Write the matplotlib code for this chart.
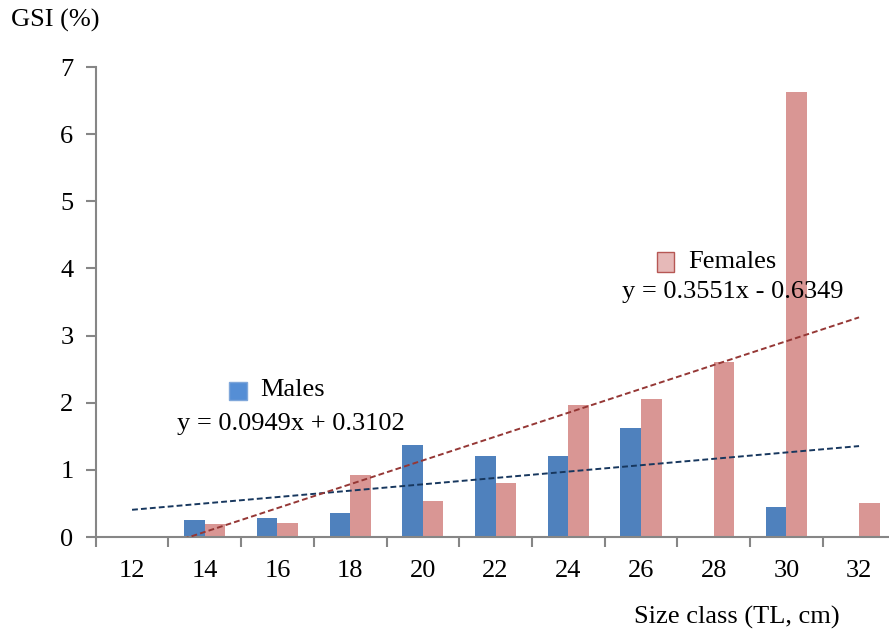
import numpy as np
import matplotlib.pyplot as plt
from matplotlib.patches import Rectangle

plt.rcParams["font.family"] = ["Liberation Serif", "DejaVu Serif"]

# data
size_class = ["12", "14", "16", "18", "20", "22", "24", "26", "28", "30", "32"]
males = [0, 0.26, 0.28, 0.36, 1.37, 1.21, 1.21, 1.62, 0, 0.44, 0]
females = [0, 0.20, 0.21, 0.93, 0.54, 0.81, 1.96, 2.06, 2.60, 6.63, 0.51]
male_fit = (0.0949, 0.3102)
female_fit = (0.3551, -0.6349)

W, H = 889, 641
fig = plt.figure(figsize=(W / 100, H / 100), dpi=100)
ax = fig.add_axes([95.7 / W, (H - 537) / H, 799.7 / W, 470 / H])

x = np.arange(len(size_class))
bw = 0.283
ax.bar(x - bw / 2, males, width=bw, color="#4F81BD", zorder=2)
ax.bar(x + bw / 2, females, width=bw, color="#D99694", zorder=2)

# linear trendlines (excel style, x = 1..n)
xi = x + 1
ax.plot(x, male_fit[0] * xi + male_fit[1], color="#17375E", lw=1.4,
        linestyle=(0, (3, 1.6)), zorder=3)
ax.plot(x, female_fit[0] * xi + female_fit[1], color="#953735", lw=1.4,
        linestyle=(0, (3, 1.6)), zorder=3)

ax.set_xlim(-0.5, len(size_class) - 0.5)
ax.set_ylim(0, 7)
ax.set_yticks(range(8))
ax.set_xticks(x)
ax.set_xticklabels(size_class)
ax.set_xticks(np.arange(-0.5, len(size_class) - 0.5, 1), minor=True)

for s in ["top", "right"]:
    ax.spines[s].set_visible(False)
for s in ["left", "bottom"]:
    ax.spines[s].set_color("#868686")
    ax.spines[s].set_linewidth(1.5)

ax.tick_params(axis="y", labelsize=19, length=7, width=1.5, color="#868686", pad=9)
ax.tick_params(axis="x", which="major", labelsize=19, length=0, pad=16.5)
ax.tick_params(axis="x", which="minor", length=7, width=1.5, color="#868686")

fig.text(11 / W, 1 - 20 / H, "GSI (%)", fontsize=19, va="center", ha="left")
fig.text(737 / W, 1 - 617 / H, "Size class (TL, cm)", fontsize=19, va="center", ha="center")

# legend-like labels with equations
fig.patches.append(Rectangle((657 / W, 1 - 272 / H), 17 / W, 20 / H, transform=fig.transFigure,
                             facecolor="#E6B9B8", edgecolor="#B65754", lw=1))
fig.text(688 / W, 1 - 262 / H, "Females", fontsize=19, va="center", ha="left")
fig.text(733 / W, 1 - 292 / H, "y = 0.3551x - 0.6349", fontsize=19, va="center", ha="center")

fig.patches.append(Rectangle((229 / W, 1 - 400 / H), 18 / W, 18 / H, transform=fig.transFigure,
                             facecolor="#558ED5", edgecolor="#7FA7DA", lw=1))
fig.text(260 / W, 1 - 390 / H, "Males", fontsize=19, va="center", ha="left")
fig.text(291 / W, 1 - 424 / H, "y = 0.0949x + 0.3102", fontsize=19, va="center", ha="center")

fig.savefig("out.png", dpi=100)
